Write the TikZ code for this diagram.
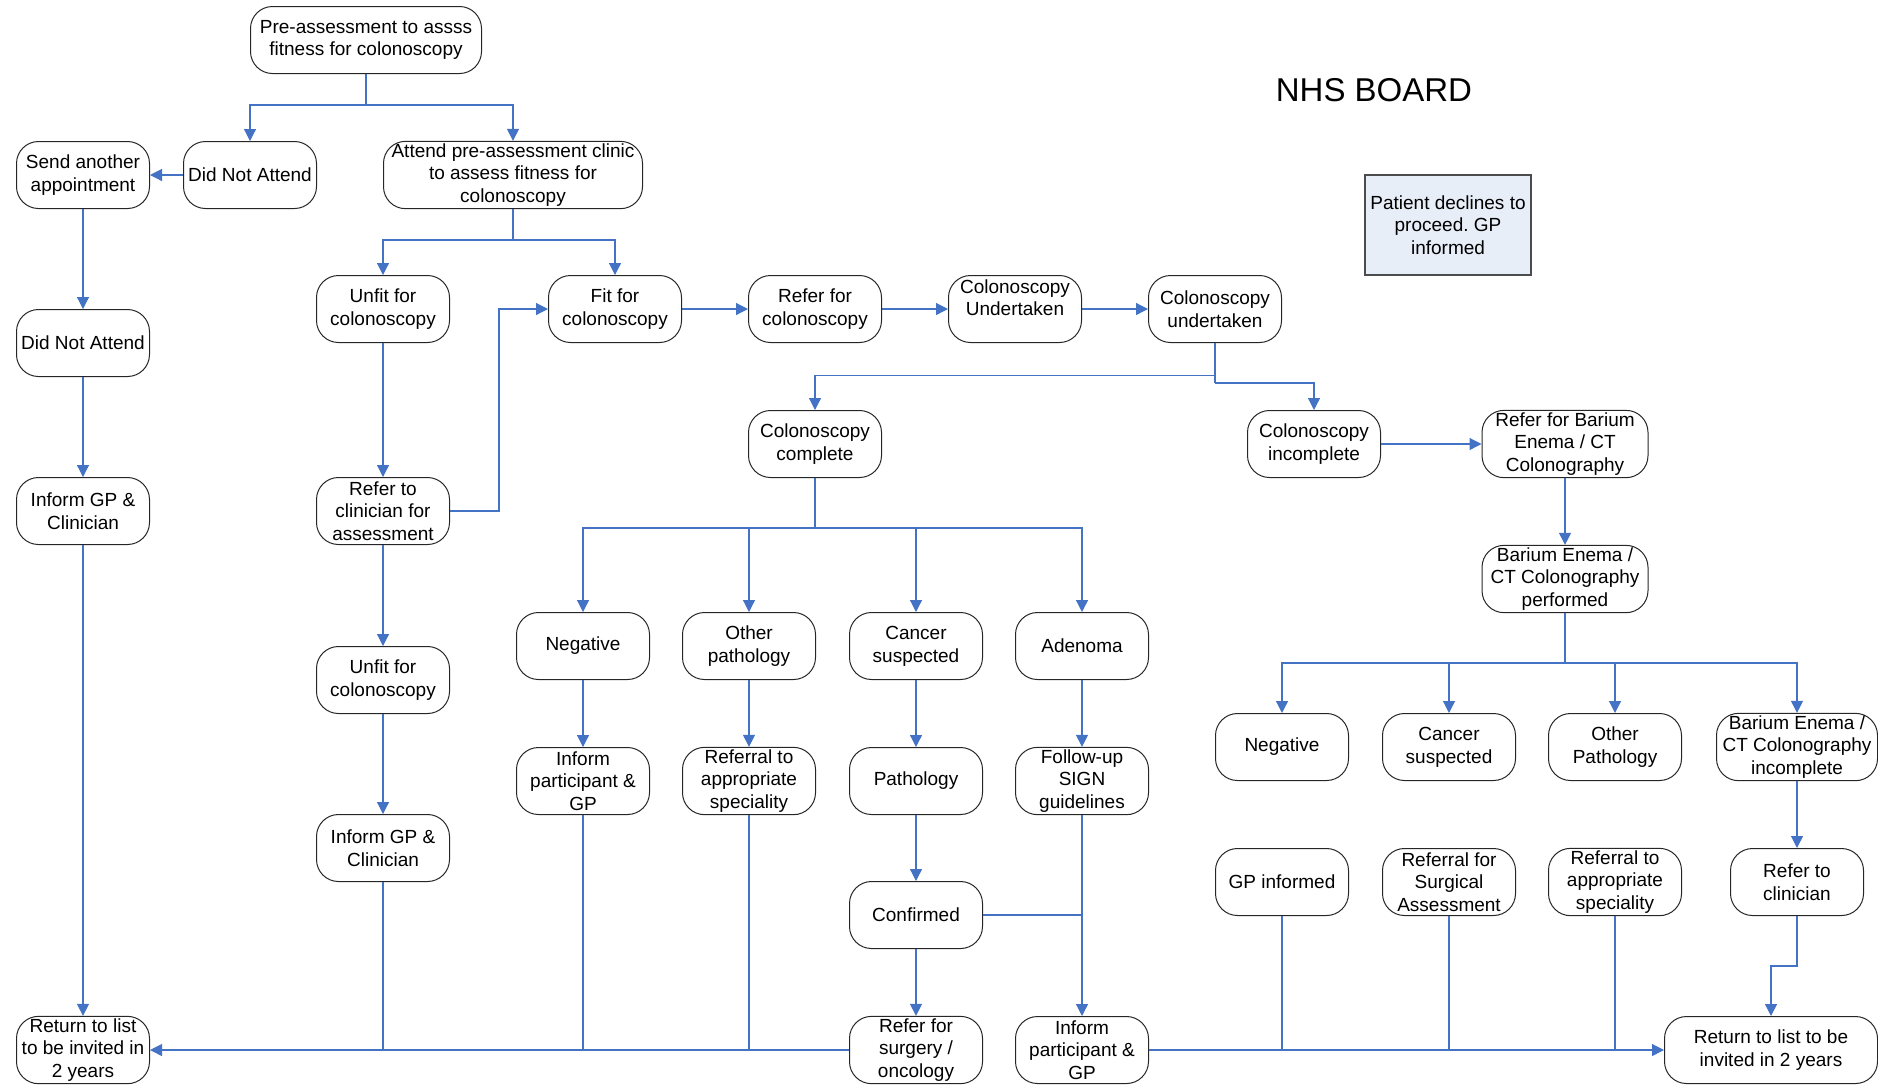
\documentclass[tikz,border=0pt]{standalone}
\usepackage{fontspec}
\setmainfont{Liberation Sans}
\usetikzlibrary{arrows.meta}
\definecolor{lineblue}{RGB}{68,114,196}
\definecolor{declfill}{RGB}{232,238,248}
\frenchspacing
\begin{document}
\begin{tikzpicture}[x=0.5pt,y=-0.5pt,
  box/.style={draw=black!85, line width=0.5pt, rounded corners=11pt, minimum width=66.5pt, minimum height=33.5pt,
    align=center, inner sep=1pt, font=\fontsize{9.5}{11.4}\selectfont},
  conn/.style={draw=lineblue, line width=0.6pt},
  arr/.style={conn, -{Triangle[length=6pt,width=6pt]}}]
\useasboundingbox (0,0) rectangle (1878,1084);
% nodes
\node[box, minimum width=115.5pt] (pre) at (366,40) {Pre-assessment to assss\\fitness for colonoscopy};
\node[box] (dna1) at (250,175) {Did Not Attend};
\node[box] (send) at (83,175) {Send another\\appointment};
\node[box, minimum width=129.5pt] (attend) at (513,175) {Attend pre-assessment clinic\\to assess fitness for\\colonoscopy};
\node[box] (dna2) at (83,343) {Did Not Attend};
\node[box] (unfit1) at (383,309) {Unfit for\\colonoscopy};
\node[box] (fit) at (615,309) {Fit for\\colonoscopy};
\node[box] (refcol) at (815,309) {Refer for\\colonoscopy};
\node[box] (colU) at (1015,309) {Colonoscopy\\Undertaken\\\mbox{}};
\node[box] (colu) at (1215,309) {Colonoscopy\\undertaken};
\node[draw=black!70, line width=0.6pt, fill=declfill, minimum width=83pt, minimum height=50pt, align=center, inner sep=1pt,
  font=\fontsize{9.5}{11.4}\selectfont] (decl) at (1448,225) {Patient declines to\\proceed. GP\\informed};
\node[font=\fontsize{16.5}{19}\selectfont] (title) at (1374,90) {NHS BOARD};
\node[box] (colcomp) at (815,444) {Colonoscopy\\complete};
\node[box] (colinc) at (1314,444) {Colonoscopy\\incomplete};
\node[box, minimum width=83pt] (refbar) at (1565,444) {Refer for Barium\\Enema / CT\\Colonography};
\node[box] (inf1) at (83,511) {Inform GP \&\\Clinician};
\node[box] (refclin) at (383,511) {Refer to\\clinician for\\assessment};
\node[box, minimum width=83pt] (barperf) at (1565,579) {Barium Enema /\\CT Colonography\\performed};
\node[box] (neg1) at (583,646) {Negative};
\node[box] (othp) at (749,646) {Other\\pathology};
\node[box] (canc1) at (916,646) {Cancer\\suspected};
\node[box] (aden) at (1082,646) {Adenoma};
\node[box] (unfit2) at (383,680) {Unfit for\\colonoscopy};
\node[box] (neg2) at (1282,747) {Negative};
\node[box] (canc2) at (1449,747) {Cancer\\suspected};
\node[box] (oth2) at (1615,747) {Other\\Pathology};
\node[box, minimum width=80.5pt] (barinc) at (1797,747) {Barium Enema /\\CT Colonography\\incomplete};
\node[box] (infpart1) at (583,781) {Inform\\participant \&\\GP};
\node[box] (refapp1) at (749,781) {Referral to\\appropriate\\speciality};
\node[box] (path) at (916,781) {Pathology};
\node[box] (follow) at (1082,781) {Follow-up\\SIGN\\guidelines};
\node[box] (inf2) at (383,848) {Inform GP \&\\Clinician};
\node[box] (gpinf) at (1282,882) {GP informed};
\node[box] (refsurg) at (1449,882) {Referral for\\Surgical\\Assessment};
\node[box] (refapp2) at (1615,882) {Referral to\\appropriate\\speciality};
\node[box] (refclin2) at (1797,882) {Refer to\\clinician};
\node[box] (confirmed) at (916,915) {Confirmed};
\node[box] (ret1) at (83,1050) {Return to list\\to be invited in\\2 years};
\node[box] (refonc) at (916,1050) {Refer for\\surgery /\\oncology};
\node[box] (infpart2) at (1082,1050) {Inform\\participant \&\\GP};
\node[box, minimum width=106.5pt] (ret2) at (1771,1050) {Return to list to be\\invited in 2 years};
% junctions
\coordinate (j1) at (366,105);
\coordinate (j2) at (513,240);
\coordinate (j3) at (499,511);
\coordinate (j4) at (1215,375.5);
\coordinate (j5) at (1215,383);
\coordinate (j6) at (1565,663);
\coordinate (j7) at (815,528);
\coordinate (j8) at (1797,966);
% connectors
\draw[conn] (pre.south) -- (j1);
\draw[arr] (j1) -| (dna1.north);
\draw[arr] (j1) -| (attend.north);
\draw[arr] (dna1.west) -- (send.east);
\draw[arr] (send.south) -- (dna2.north);
\draw[arr] (dna2.south) -- (inf1.north);
\draw[arr] (inf1.south) -- (ret1.north);
\draw[conn] (attend.south) -- (j2);
\draw[arr] (j2) -| (unfit1.north);
\draw[arr] (j2) -| (fit.north);
\draw[arr] (unfit1.south) -- (refclin.north);
\draw[arr] (refclin.east) -- (j3) |- (fit.west);
\draw[arr] (refclin.south) -- (unfit2.north);
\draw[arr] (unfit2.south) -- (inf2.north);
\draw[conn] (inf2.south) -- (inf2.south |- ret1.east);
\draw[arr] (fit.east) -- (refcol.west);
\draw[arr] (refcol.east) -- (colU.west);
\draw[arr] (colU.east) -- (colu.west);
\draw[conn] (colu.south) -- (j5);
\draw[arr] (j4) -| (colcomp.north);
\draw[arr] (j5) -| (colinc.north);
\draw[arr] (colinc.east) -- (refbar.west);
\draw[arr] (refbar.south) -- (barperf.north);
\draw[conn] (barperf.south) -- (j6);
\draw[arr] (j6) -| (neg2.north);
\draw[arr] (j6) -| (canc2.north);
\draw[arr] (j6) -| (oth2.north);
\draw[arr] (j6) -| (barinc.north);
\draw[conn] (colcomp.south) -- (j7);
\draw[arr] (j7) -| (neg1.north);
\draw[arr] (j7) -| (othp.north);
\draw[arr] (j7) -| (canc1.north);
\draw[arr] (j7) -| (aden.north);
\draw[arr] (neg1.south) -- (infpart1.north);
\draw[arr] (othp.south) -- (refapp1.north);
\draw[arr] (canc1.south) -- (path.north);
\draw[arr] (aden.south) -- (follow.north);
\draw[arr] (path.south) -- (confirmed.north);
\draw[arr] (confirmed.south) -- (refonc.north);
\draw[conn] (confirmed.east) -- (confirmed.east -| follow.south);
\draw[arr] (follow.south) -- (infpart2.north);
\draw[conn] (infpart1.south) -- (infpart1.south |- ret1.east);
\draw[conn] (refapp1.south) -- (refapp1.south |- ret1.east);
\draw[arr] (refonc.west) -- (ret1.east);
\draw[arr] (infpart2.east) -- (ret2.west);
\draw[conn] (gpinf.south) -- (gpinf.south |- ret2.west);
\draw[conn] (refsurg.south) -- (refsurg.south |- ret2.west);
\draw[conn] (refapp2.south) -- (refapp2.south |- ret2.west);
\draw[arr] (barinc.south) -- (refclin2.north);
\draw[arr] (refclin2.south) -- (j8) -| (ret2.north);
\end{tikzpicture}
\end{document}
